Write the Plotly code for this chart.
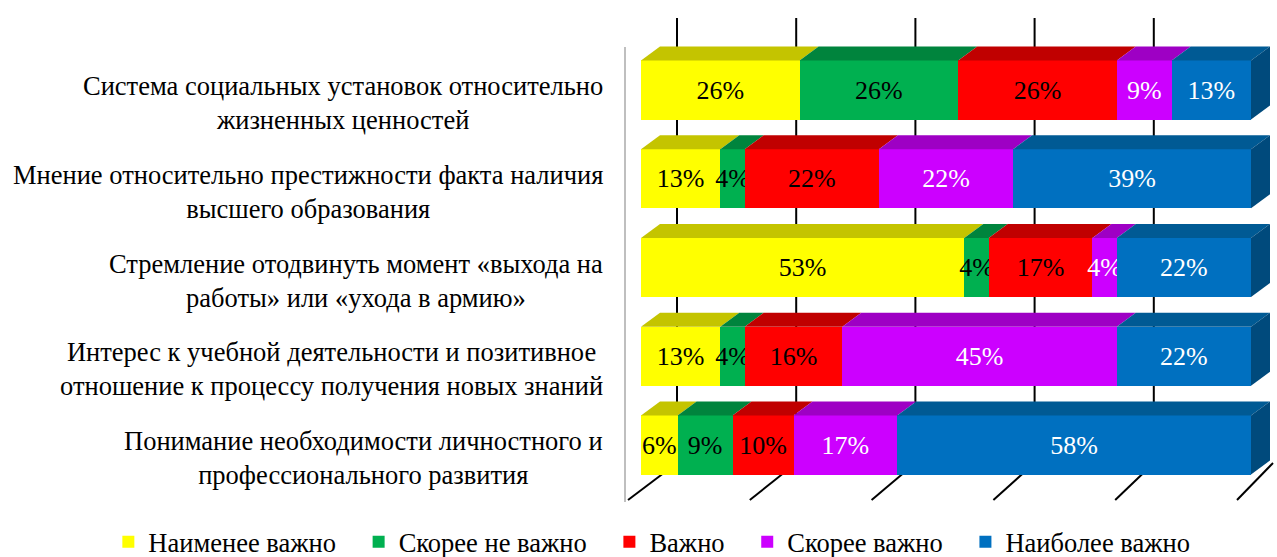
import plotly.graph_objects as go

# ---------------- data ----------------
categories = [
    "Система социальных установок относительно<br>жизненных ценностей",
    "Мнение относительно престижности факта наличия<br>высшего образования",
    "Стремление отодвинуть момент «выхода на<br>работы» или «ухода в армию»",
    "Интерес к учебной деятельности и позитивное<br>отношение к процессу получения новых знаний",
    "Понимание необходимости личностного и<br>профессионального развития",
]
series_names = ["Наименее важно", "Скорее не важно", "Важно", "Скорее важно", "Наиболее важно"]
least_important = [26, 13, 53, 13, 6]
rather_not_important = [26, 4, 4, 4, 9]
important = [26, 22, 17, 16, 10]
rather_important = [9, 22, 4, 45, 17]
most_important = [13, 39, 22, 22, 58]
ticks = [0, 20, 40, 60, 80, 100]

# ---------------- style ----------------
front_colors = ["#FFFF00", "#00B050", "#FF0000", "#CC00FF", "#0070C0"]
top_colors = ["#C4C400", "#00843D", "#C00000", "#9E00C4", "#005A94"]
side_color = "#004A7C"
text_colors = ["black", "black", "black", "white", "white"]
FONT = "Liberation Serif, Times New Roman, serif"
FS_LABEL = 26.5
FS_BAR = 26

W, H = 1277, 557
PL, PR, PT, PB = 0, 1277, 10, 505        # plot area in pixels
X0_PX, PX_PER_UNIT = 641, 6.1            # front face scale
Y0_PX, ROW_PX = 90, 88.75                # category spacing
BAR_W = 0.665


def px_x(p):
    return (p - X0_PX) / PX_PER_UNIT


def px_y(p):
    return (p - Y0_PX) / ROW_PX


DDX = 19 / PX_PER_UNIT   # bar depth (x)
DDY = 14 / ROW_PX        # bar depth (y)
PAD = "\u00a0\u00a0\u2006"

series = [least_important, rather_not_important, important, rather_important, most_important]
ypos = list(range(len(categories)))

fig = go.Figure()
for name, vals, fc, tc in zip(series_names, series, front_colors, text_colors):
    fig.add_trace(go.Bar(
        y=ypos, x=vals, name=name + PAD, orientation="h", width=BAR_W,
        marker=dict(color=fc, line=dict(width=0)),
        text=[f"{v}%" for v in vals], textposition="inside",
        insidetextanchor="middle", constraintext="none", textangle=0,
        textfont=dict(family=FONT, size=FS_BAR, color=tc),
        hoverinfo="skip",
    ))

shapes = []
# back wall grid lines (right wall edge not drawn) and floor lines
for t in ticks:
    bx = px_x(677 + 5.96 * t)
    fx = px_x(628 + 6.09 * t)
    if t < ticks[-1]:
        shapes.append(dict(type="line", xref="x", yref="y", x0=bx, x1=bx,
                           y0=px_y(18), y1=px_y(463), layer="below",
                           line=dict(color="black", width=2)))
    shapes.append(dict(type="line", xref="x", yref="y", x0=fx, x1=bx,
                       y0=px_y(500), y1=px_y(463), layer="below",
                       line=dict(color="black", width=2)))
# left wall edge
shapes.append(dict(type="line", xref="x", yref="y", x0=px_x(625), x1=px_x(625),
                   y0=px_y(47), y1=px_y(502), layer="below",
                   line=dict(color="#BFBFBF", width=2)))

# 3D top faces and right side face
for i in ypos:
    ytop = i - BAR_W / 2
    ybot = i + BAR_W / 2
    cum = 0
    for k, vals in enumerate(series):
        a, b = cum, cum + vals[i]
        cum = b
        path = (f"M {a},{ytop} L {b},{ytop} L {b + DDX},{ytop - DDY} "
                f"L {a + DDX},{ytop - DDY} Z")
        shapes.append(dict(type="path", xref="x", yref="y", path=path,
                           fillcolor=top_colors[k], line=dict(width=0), layer="above"))
    path = (f"M {cum},{ytop} L {cum + DDX},{ytop - DDY} L {cum + DDX},{ybot - DDY} "
            f"L {cum},{ybot} Z")
    shapes.append(dict(type="path", xref="x", yref="y", path=path,
                       fillcolor=side_color, line=dict(width=0), layer="above"))

annotations = []
for i, c in zip(ypos, categories):
    annotations.append(dict(x=px_x(605), xref="x", y=i, yref="y", text=c,
                            showarrow=False, xanchor="right", yanchor="middle",
                            yshift=-13, align="center",
                            font=dict(family=FONT, size=FS_LABEL, color="black")))

fig.update_layout(
    width=W, height=H,
    margin=dict(l=PL, r=W - PR, t=PT, b=H - PB, pad=0, autoexpand=False),
    barmode="stack",
    plot_bgcolor="white", paper_bgcolor="white",
    xaxis=dict(range=[px_x(PL), px_x(PR)], showgrid=False, zeroline=False,
               showticklabels=False, showline=False, fixedrange=True),
    yaxis=dict(range=[px_y(PB), px_y(PT)], showgrid=False, zeroline=False,
               showticklabels=False, showline=False, fixedrange=True),
    shapes=shapes, annotations=annotations,
    showlegend=True,
    legend=dict(orientation="h", xref="container", yref="container",
                x=0.5175, xanchor="center", y=(H - 542) / H, yanchor="middle",
                font=dict(family=FONT, size=FS_LABEL, color="black"),
                itemwidth=30, traceorder="normal", bgcolor="rgba(0,0,0,0)"),
    font=dict(family=FONT, size=FS_LABEL),
)

fig.write_html("out.html", config={"displayModeBar": False},
               post_script="document.body.style.margin='0';")
